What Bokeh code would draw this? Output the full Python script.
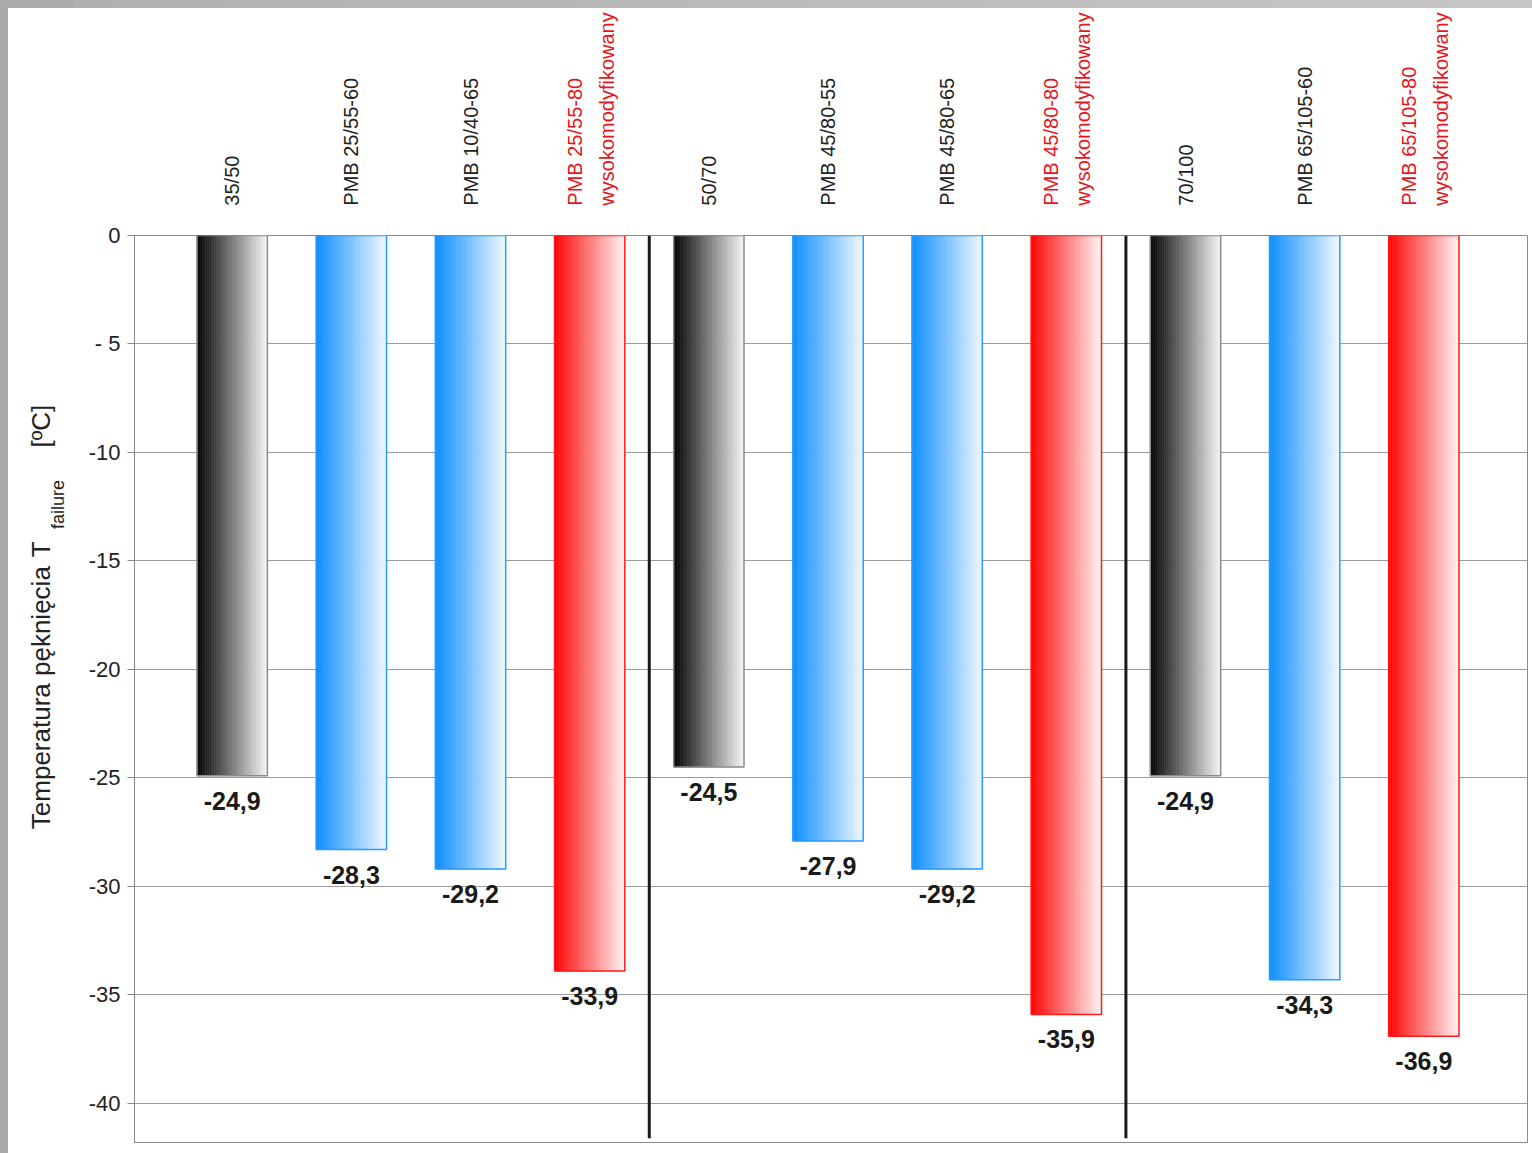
import numpy as np
from math import pi
from bokeh.plotting import figure
from bokeh.layouts import row, column
from bokeh.models import Range1d, FixedTicker, ColumnDataSource
from bokeh.core.properties import value
from bokeh.embed import file_html
from bokeh.resources import INLINE

# ---------------- data ----------------
categories = ["35/50", "PMB 25/55-60", "PMB 10/40-65", "PMB 25/55-80",
              "50/70", "PMB 45/80-55", "PMB 45/80-65", "PMB 45/80-80",
              "70/100", "PMB 65/105-60", "PMB 65/105-80"]
second_line = ["", "", "", "wysokomodyfikowany",
               "", "", "", "wysokomodyfikowany",
               "", "", "wysokomodyfikowany"]
kinds = ["base", "pmb", "pmb", "hm",
         "base", "pmb", "pmb", "hm",
         "base", "pmb", "hm"]
values = [-24.9, -28.3, -29.2, -33.9,
          -24.5, -27.9, -29.2, -35.9,
          -24.9, -34.3, -36.9]
group_sizes = [4, 4, 3]
y_ticks = [0, -5, -10, -15, -20, -25, -30, -35, -40]
y_tick_labels = ["0", "- 5", "-10", "-15", "-20", "-25", "-30", "-35", "-40"]
y_title = "Temperatura pęknięcia"
y_title_sym = "T"
y_title_sub = "failure"
y_title_unit = "[ºC]"

# ---------------- styles ----------------
grad = {
    "base": ((0, 0, 0), (246, 246, 246), "#8c8c8c"),
    "pmb": ((8, 140, 255), (240, 248, 255), "#2a9bff"),
    "hm": ((255, 0, 0), (255, 244, 244), "#ff1a1a"),
}
label_color = {"base": "#222222", "pmb": "#222222", "hm": "#e8141c"}
FONT = "Liberation Sans"
TXT = "#222222"
BORDER = 8

n = len(categories)
xs = np.arange(n)
bar_w = 0.59

LEFT_W = 74          # left title panel, incl. 8px border
MAIN_W = 1458
TOP_H = 220          # category label panel, incl. 8px border
MAIN_H = 933
PANEL_H = TOP_H + MAIN_H

x_range = Range1d(-0.82, n - 1 + 0.87)

# ---------------- main chart ----------------
p = figure(width=MAIN_W, height=MAIN_H, output_backend="svg", toolbar_location=None,
           x_range=x_range, y_range=Range1d(-41.8, 0))
p.min_border_left = 60
p.min_border_top = 15
p.min_border_right = 5
p.min_border_bottom = 11
p.background_fill_color = "white"
p.border_fill_color = "white"
p.outline_line_color = "#8a8a8a"
p.outline_line_width = 1

p.xaxis.visible = False
p.xgrid.visible = False
p.ygrid.grid_line_color = "#9c9c9c"
p.ygrid.grid_line_width = 1
p.yaxis.ticker = FixedTicker(ticks=y_ticks)
p.yaxis.major_label_overrides = {t: l for t, l in zip(y_ticks, y_tick_labels)}
p.yaxis.major_label_text_font = FONT
p.yaxis.major_label_text_font_size = "22px"
p.yaxis.major_label_text_color = TXT
p.yaxis.major_tick_out = 7
p.yaxis.major_tick_in = 0
p.yaxis.minor_tick_line_color = None
p.yaxis.major_tick_line_color = "#888888"
p.yaxis.axis_line_color = "#888888"
p.yaxis.major_label_standoff = 7

# gradient bars built from thin strips
N = 40
L, R, T, B, C = [], [], [], [], []
for x, v, k in zip(xs, values, kinds):
    c0, c1, _ = grad[k]
    edges = np.linspace(x - bar_w / 2, x + bar_w / 2, N + 1)
    for j in range(N):
        t = (j + 0.5) / N
        col = tuple(int(round(a + (b - a) * t)) for a, b in zip(c0, c1))
        L.append(edges[j]); R.append(edges[j + 1])
        T.append(0); B.append(v)
        C.append("#%02x%02x%02x" % col)
p.quad(left=L, right=R, top=T, bottom=B, fill_color=C, line_color=C, line_width=0.6)

outline_src = ColumnDataSource(dict(
    left=xs - bar_w / 2, right=xs + bar_w / 2, top=[0] * n, bottom=values,
    lc=[grad[k][2] for k in kinds]))
p.quad(left="left", right="right", top="top", bottom="bottom", source=outline_src,
       fill_color=None, line_color="lc", line_width=1.5)

val_src = ColumnDataSource(dict(x=xs, y=values,
                                t=[("%.1f" % v).replace(".", ",") for v in values]))
p.text(x="x", y="y", text="t", source=val_src, text_align="center",
       text_baseline="top", y_offset=16, text_font=value(FONT),
       text_font_style="bold", text_font_size="25px", text_color="#1a1a1a")

bounds = np.cumsum(group_sizes)[:-1] - 0.5
p.segment(x0=bounds, y0=[0] * len(bounds), x1=bounds, y1=[-41.6] * len(bounds),
          line_color="#1a1a1a", line_width=3)

# ---------------- category labels panel ----------------
top = figure(width=MAIN_W, height=TOP_H, output_backend="svg", toolbar_location=None,
             x_range=x_range, y_range=Range1d(0, TOP_H - BORDER),
             x_axis_location=None, y_axis_location=None)
top.min_border_left = 60
top.min_border_right = 5
top.min_border_top = 0
top.min_border_bottom = 0
top.outline_line_color = None
top.grid.visible = False
top.styles = {"border-top": "%dpx solid #bcbcbc" % BORDER,
              "border-image": "linear-gradient(to right, #b0b0b0, #c6c6c6) 1"}

lx, ltxt, loff, lcol = [], [], [], []
for x, cat, sec, k in zip(xs, categories, second_line, kinds):
    lines = [(cat, -15), (sec, 17)] if sec else [(cat, 0)]
    for txt, dx in lines:
        lx.append(x); ltxt.append(txt); loff.append(dx); lcol.append(label_color[k])
cat_src = ColumnDataSource(dict(x=lx, y=[22] * len(lx), t=ltxt, dx=loff, c=lcol))
top.text(x="x", y="y", text="t", x_offset="dx", text_color="c", source=cat_src,
         angle=pi / 2, text_align="left", text_baseline="middle",
         text_font=value(FONT), text_font_size="20px")

# ---------------- y-axis title panel ----------------
left = figure(width=LEFT_W, height=PANEL_H, output_backend="svg", toolbar_location=None,
              x_range=Range1d(0, LEFT_W - BORDER), y_range=Range1d(0, PANEL_H - BORDER),
              x_axis_location=None, y_axis_location=None, min_border=0)
left.outline_line_color = None
left.grid.visible = False
left.styles = {"border-top": "%dpx solid #aaaaaa" % BORDER,
               "border-left": "%dpx solid #a9a9a9" % BORDER}

title_src = ColumnDataSource(dict(
    x=[29, 29, 44, 29],
    y=[330, 600, 628, 709],
    t=[y_title, y_title_sym, y_title_sub, y_title_unit],
    s=["26px", "26px", "18px", "26px"]))
left.text(x="x", y="y", text="t", text_font_size="s", source=title_src,
          angle=pi / 2, text_align="left", text_baseline="middle",
          text_font=value(FONT), text_color=TXT)

layout = row(left, column(top, p, spacing=0), spacing=0)
open("out.html", "w").write(file_html(layout, INLINE))
